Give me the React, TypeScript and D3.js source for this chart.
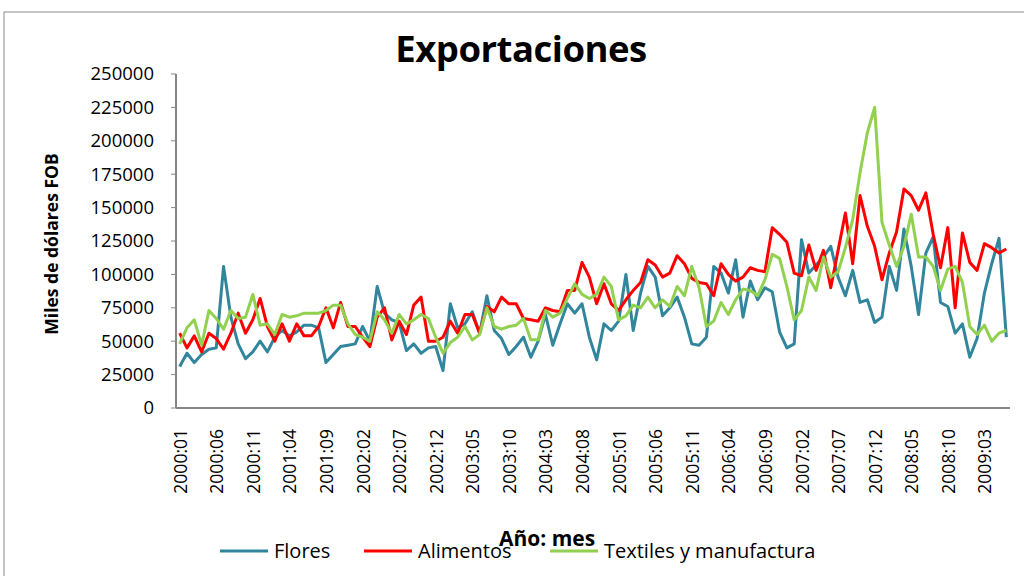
import React from 'react'
import { scaleBand, scaleLinear, line } from 'd3'

// monthly categories 2000:01 .. 2009:06
const years = [2000, 2001, 2002, 2003, 2004, 2005, 2006, 2007, 2008, 2009]
const months = years.flatMap(y =>
    Array.from({ length: 12 }, (_, m) => `${y}:${String(m + 1).padStart(2, '0')}`)
).slice(0, 114)

const flores = [
    31, 41, 34, 40, 44, 45, 106, 68, 48, 37, 42, 50, 42, 53, 58, 54, 57, 62, 62, 60,
    34, 40, 46, 47, 48, 61, 50, 91, 71, 66, 64, 43, 48, 41, 45, 46, 28, 78, 60, 63,
    72, 56, 84, 58, 52, 40, 46, 53, 38, 50, 70, 47, 63, 78, 71, 78, 53, 36, 63, 58,
    65, 100, 58, 86, 106, 98, 69, 75, 83, 68, 48, 47, 53, 106, 101, 86, 111, 68, 95, 81,
    90, 87, 57, 45, 48, 126, 101, 107, 113, 121, 98, 84, 103, 79, 81, 64, 68, 106, 88, 134,
    106, 70, 116, 128, 79, 76, 56, 63, 38, 52, 86, 108, 127, 53
].map(v => v * 1000)

const alimentos = [
    56, 45, 54, 42, 56, 52, 44, 56, 71, 56, 66, 82, 61, 50, 63, 50, 63, 54, 54, 61,
    75, 60, 79, 61, 61, 53, 46, 68, 75, 51, 65, 55, 77, 83, 50, 50, 53, 65, 56, 70,
    70, 56, 76, 72, 83, 78, 78, 67, 66, 65, 75, 73, 72, 88, 88, 109, 98, 78, 93, 78,
    73, 81, 88, 94, 111, 107, 98, 101, 114, 108, 97, 94, 93, 84, 108, 100, 95, 98, 105, 103,
    102, 135, 130, 124, 101, 99, 122, 103, 118, 90, 118, 146, 108, 159, 136, 121, 96, 116, 132, 164,
    159, 148, 161, 130, 105, 135, 75, 131, 109, 103, 123, 120, 116, 119
].map(v => v * 1000)

const textiles = [
    48, 60, 66, 47, 73, 67, 59, 73, 67, 68, 85, 62, 63, 55, 70, 68, 69, 71, 71, 71,
    73, 77, 77, 63, 55, 53, 50, 72, 66, 56, 70, 63, 66, 70, 67, 53, 41, 49, 53, 61,
    51, 55, 75, 61, 59, 61, 62, 67, 51, 51, 73, 68, 71, 82, 93, 85, 82, 85, 98, 91,
    66, 69, 77, 75, 83, 75, 81, 76, 91, 84, 106, 90, 61, 65, 79, 70, 81, 89, 88, 84,
    96, 115, 112, 91, 66, 73, 98, 88, 113, 98, 102, 120, 141, 176, 206, 225, 139, 122, 106, 121,
    145, 113, 113, 106, 88, 104, 106, 94, 61, 55, 62, 50, 56, 58
].map(v => v * 1000)

const yTicks = [0, 25000, 50000, 75000, 100000, 125000, 150000, 175000, 200000, 225000, 250000]

const series = [
    { name: 'Flores', values: flores, color: '#31859C' },
    { name: 'Alimentos', values: alimentos, color: '#FF0000' },
    { name: 'Textiles y manufactura', values: textiles, color: '#92D050' },
]

const font = 'Open Sans, Lato, sans-serif'

const App = () => {
    const width = 1024
    const height = 576
    const margin = { top: 74, right: 14, bottom: 168, left: 176 }
    const innerWidth = width - margin.left - margin.right
    const innerHeight = height - margin.top - margin.bottom

    const x = scaleBand().domain(months).range([0, innerWidth])
    const y = scaleLinear().domain([0, 250000]).range([innerHeight, 0])

    const lineGen = line<number>()
        .x((d, i) => (x(months[i]) as number) + x.bandwidth() / 2)
        .y(d => y(d))

    const legendItems = [
        { x: 220, textX: 274 },
        { x: 364, textX: 418 },
        { x: 550, textX: 604 },
    ]

    return (
        <svg width={width} height={height} style={{ position: 'absolute', left: 0, top: 0, background: '#fff' }}>
            <rect x={4} y={12} width={1040} height={600} fill="white" stroke="#8c8c8c" strokeWidth={1} />
            <text x={521} y={62} textAnchor="middle" fontFamily={font} fontWeight="bold" fontSize={36.5} letterSpacing={-0.5}>Exportaciones</text>
            <g transform={`translate(${margin.left}, ${margin.top})`}>
                {yTicks.map(t => (
                    <g key={t} transform={`translate(0, ${y(t)})`}>
                        <line x1={-5} x2={0} stroke="#868686" />
                        <text x={-22} dy="0.35em" textAnchor="end" fontFamily={font} fontSize={18.5}>{t}</text>
                    </g>
                ))}
                <line x1={0} x2={0} y1={0} y2={innerHeight} stroke="#868686" strokeWidth={2} />
                <line x1={0} x2={innerWidth} y1={innerHeight} y2={innerHeight} stroke="#868686" strokeWidth={2} />
                {months.map((m, i) => i % 5 === 0 ? (
                    <text key={m} transform={`translate(${(x(m) as number) + x.bandwidth() / 2 + 7}, ${innerHeight + 21}) rotate(-90)`}
                        textAnchor="end" fontFamily={font} fontSize={17.5}>{m}</text>
                ) : null)}
                {series.map(s => (
                    <path key={s.name} d={lineGen(s.values) as string} fill="none" stroke={s.color} strokeWidth={3} strokeLinejoin="round" />
                ))}
            </g>
            <text transform="translate(58, 244) rotate(-90)" textAnchor="middle" fontFamily={font} fontWeight="bold" fontSize={17.5}>Miles de dólares FOB</text>
            <text x={547} y={546} textAnchor="middle" fontFamily={font} fontWeight="bold" fontSize={21}>Año: mes</text>
            {series.map((s, i) => (
                <g key={s.name}>
                    <line x1={legendItems[i].x} x2={legendItems[i].x + 48} y1={551} y2={551} stroke={s.color} strokeWidth={3} />
                    <text x={legendItems[i].textX} y={558} fontFamily={font} fontSize={20}>{s.name}</text>
                </g>
            ))}
        </svg>
    )
}

export default App
